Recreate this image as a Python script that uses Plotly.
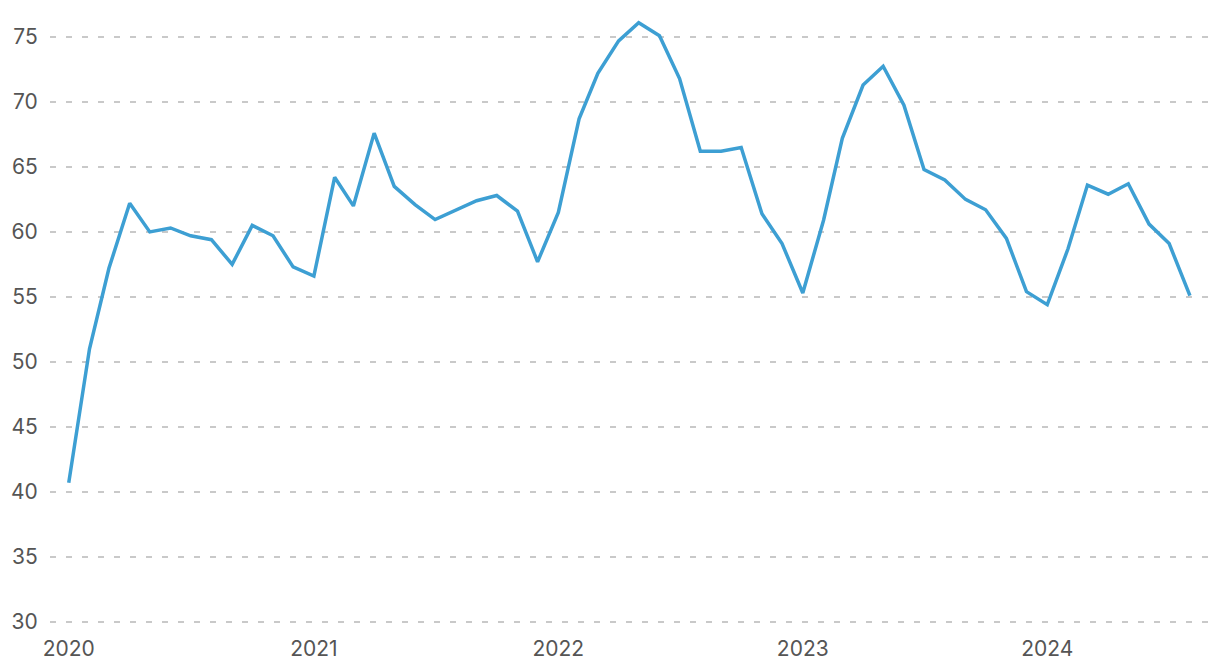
import plotly.graph_objects as go
import pandas as pd

months = pd.date_range("2020-01-01", "2024-08-01", freq="MS")
values = [
    40.7, 51.0, 57.2, 62.2, 60.0, 60.3, 59.7, 59.4, 57.5, 60.5, 59.7, 57.3,
    56.6, 64.2, 62.0, 67.6, 63.5, 62.1, 60.95, 61.7, 62.4, 62.8, 61.6, 57.7,
    61.5, 68.7, 72.2, 74.7, 76.1, 75.1, 71.8, 66.2, 66.2, 66.5, 61.4, 59.1,
    55.3, 60.9, 67.2, 71.3, 72.75, 69.75, 64.8, 64.0, 62.5, 61.7, 59.5, 55.4,
    54.4, 58.7, 63.6, 62.9, 63.7, 60.6, 59.1, 55.1,
]
y_ticks = [30, 35, 40, 45, 50, 55, 60, 65, 70, 75]
x_ticks = ["2020-01-01", "2021-01-01", "2022-01-01", "2023-01-01", "2024-01-01"]
x_tick_labels = ["2020", "2021", "2022", "2023", "2024"]

fig = go.Figure(
    go.Scatter(
        x=months,
        y=values,
        mode="lines",
        line=dict(color="#3d9fd3", width=3.5),
        hoverinfo="x+y",
    )
)

# page body has an 8px default margin; compensate so the plot area lands at 50..1210 x 11..623
fig.update_layout(
    width=1212,
    height=664,
    margin=dict(l=42, r=10, t=3, b=48.7),
    plot_bgcolor="white",
    paper_bgcolor="white",
    showlegend=False,
    font=dict(family="Inter, Roboto, sans-serif", size=21, color="#555555"),
)
fig.update_xaxes(
    range=["2019-12-04", "2024-08-31"],
    tickvals=x_ticks,
    ticktext=x_tick_labels,
    showgrid=False,
    zeroline=False,
    showline=False,
    ticks="outside",
    ticklen=7,
    tickcolor="rgba(0,0,0,0)",
    automargin=False,
)
fig.update_yaxes(
    range=[29.9, 77],
    tickvals=y_ticks,
    showgrid=True,
    gridcolor="#c9c9c9",
    gridwidth=2,
    griddash="6px,10px",
    zeroline=False,
    showline=False,
    ticks="outside",
    ticklen=7,
    tickcolor="rgba(0,0,0,0)",
    automargin=False,
)

fig.write_html("out.html")
